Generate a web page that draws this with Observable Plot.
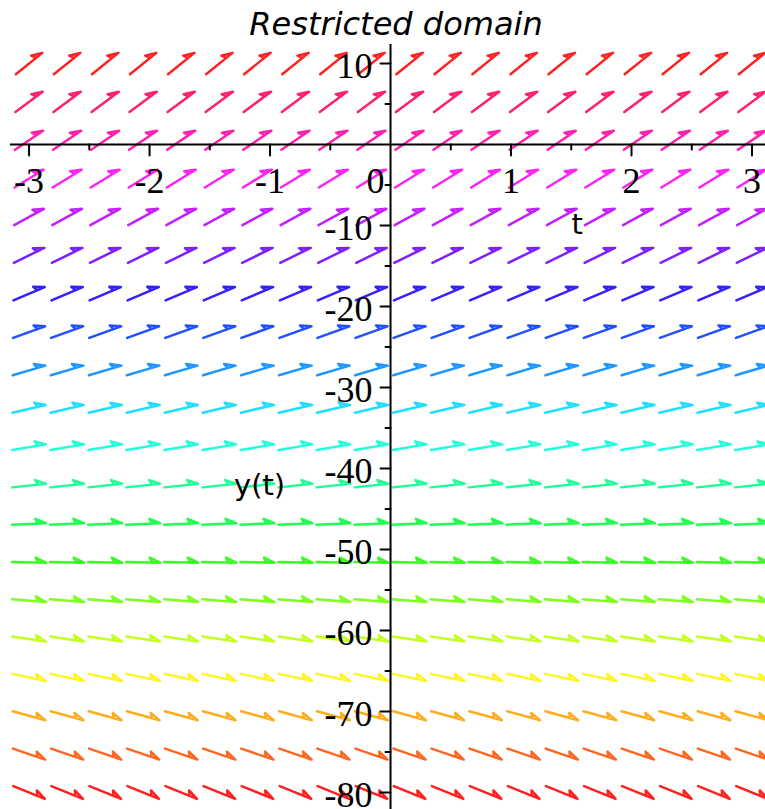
<!DOCTYPE html>
<html><head><meta charset="utf-8">
<script src="https://cdn.jsdelivr.net/npm/d3@7"></script>
<script src="https://cdn.jsdelivr.net/npm/@observablehq/plot@0.6"></script>
<style>
body{margin:0;background:#fff;}
#title{height:44px;width:765px;position:relative;overflow:visible;}
#title span{position:absolute;left:396px;top:5px;transform:translateX(-50%);font-style:italic;font-size:32px;font-family:"DejaVu Sans";white-space:nowrap;color:#000;line-height:normal;}
#chart svg{display:block;}
</style></head><body>
<div id="title"><span>Restricted domain</span></div>
<div id="chart"></div>
<script>
// grid columns (t) and rows (y) of the direction field
const columnsT = [-3, -2.684, -2.368, -2.053, -1.737, -1.421, -1.105, -0.789, -0.474, -0.158,
                  0.158, 0.474, 0.789, 1.105, 1.421, 1.737, 2.053, 2.368, 2.684, 3];
const rowsY = [10, 5.263, 0.526, -4.211, -8.947, -13.684, -18.421, -23.158, -27.895, -32.632,
               -37.368, -42.105, -46.842, -51.579, -56.316, -61.053, -65.789, -70.526, -75.263, -80];
// slope dy/dt read for each row
const rowSlopes = [12.0, 11.05, 10.1, 9.15, 8.2, 7.25, 6.3, 5.35, 4.4, 3.45,
                   2.5, 1.6, 0.65, -0.3, -1.25, -2.2, -3.15, -4.1, -5.05, -6.0];
// arrow colour for each row
const rowColors = ["#ff2020", "#ff2067", "#ff20ad", "#ff20f4", "#c320ff", "#7d20ff", "#3620ff",
                   "#2050ff", "#2097ff", "#20deff", "#20ffda", "#20ff97", "#20ff50", "#36ff20",
                   "#7dff20", "#c3ff20", "#fff420", "#ffad20", "#ff6720", "#ff2020"];
const xTicks = [-3, -2, -1, 1, 2, 3];
const xTickLabels = ["-3", "-2", "-1", "1", "2", "3"];
const xMinorTicks = [-2.5, -1.5, -0.5, 0.5, 1.5, 2.5];
const yTicks = [10, -10, -20, -30, -40, -50, -60, -70, -80];
const yTickLabels = ["10", "-10", "-20", "-30", "-40", "-50", "-60", "-70", "-80"];
const yMinorTicks = [5, -5, -15, -25, -35, -45, -55, -65, -75];
const xLabel = "t";
const yLabel = "y(t)";

const W = 765, H = 765, mL = 10, mR = 0, mT = 0, mB = 0;
const xDomain = [-3.154, 3.112];
const yDomain = [-82.1, 12.35];
const kx = (W - mL - mR) / (xDomain[1] - xDomain[0]);
const ky = (H - mT - mB) / (yDomain[1] - yDomain[0]);

const field = [];
rowsY.forEach((y, i) => columnsT.forEach(t => field.push({t, y, slope: rowSlopes[i], color: rowColors[i]})));

const harpoon = {
  draw(c, l) {
    c.moveTo(0, 0);
    c.lineTo(0, -l);
    c.lineTo(-4.8, -l + 10.5);
    c.lineTo(0, -l + 8);
  }
};
const tickLine = {
  draw(c, l) { c.moveTo(0, 0); c.lineTo(0, -l); }
};

const serif = "Liberation Serif";
const chart = Plot.plot({
  width: W, height: H,
  marginLeft: mL, marginRight: mR, marginTop: mT, marginBottom: mB,
  x: {domain: xDomain, axis: null},
  y: {domain: yDomain, axis: null},
  color: {type: "identity"},
  style: {background: "transparent", overflow: "visible"},
  marks: [
    Plot.vector(field, {
      x: "t", y: "y",
      rotate: d => 90 - Math.atan(d.slope * ky / kx) * 180 / Math.PI,
      length: 34, anchor: "middle", shape: harpoon,
      stroke: "color", strokeWidth: 2.5, strokeLinecap: "round", strokeLinejoin: "round"
    }),
    Plot.ruleY([0], {stroke: "#000", strokeWidth: 2}),
    Plot.ruleX([0], {stroke: "#000", strokeWidth: 2}),
    Plot.vector(xTicks, {x: d => d, y: () => 0, rotate: 180, length: 11, anchor: "start", shape: tickLine, stroke: "#000", strokeWidth: 2}),
    Plot.vector(xMinorTicks, {x: d => d, y: () => 0, rotate: 180, length: 5, anchor: "start", shape: tickLine, stroke: "#000", strokeWidth: 2}),
    Plot.vector(yTicks, {x: () => 0, y: d => d, rotate: 270, length: 10, anchor: "start", shape: tickLine, stroke: "#000", strokeWidth: 2}),
    Plot.vector(yMinorTicks, {x: () => 0, y: d => d, rotate: 270, length: 5, anchor: "start", shape: tickLine, stroke: "#000", strokeWidth: 2}),
    Plot.text(xTicks, {x: d => d, y: () => 0, text: (d, i) => xTickLabels[i], dy: 37, fontSize: 36, fontFamily: serif, fill: "#000"}),
    Plot.text([0], {x: d => d, y: () => 0, text: () => "0", dy: 37, dx: -6, textAnchor: "end", fontSize: 36, fontFamily: serif, fill: "#000"}),
    Plot.text(yTicks, {x: () => 0, y: d => d, text: (d, i) => yTickLabels[i], dx: -18, dy: 3, textAnchor: "end", fontSize: 36, fontFamily: serif, fill: "#000"}),
    Plot.text([xLabel], {x: () => 1.55, y: () => -9.9, text: d => d, fontSize: 29, fontFamily: "DejaVu Sans", fill: "#000"}),
    Plot.text([yLabel], {x: () => -1.087, y: () => -42.1, text: d => d, fontSize: 29, fontFamily: "DejaVu Sans", fill: "#000"})
  ]
});
document.getElementById("chart").appendChild(chart);
</script>
</body></html>
